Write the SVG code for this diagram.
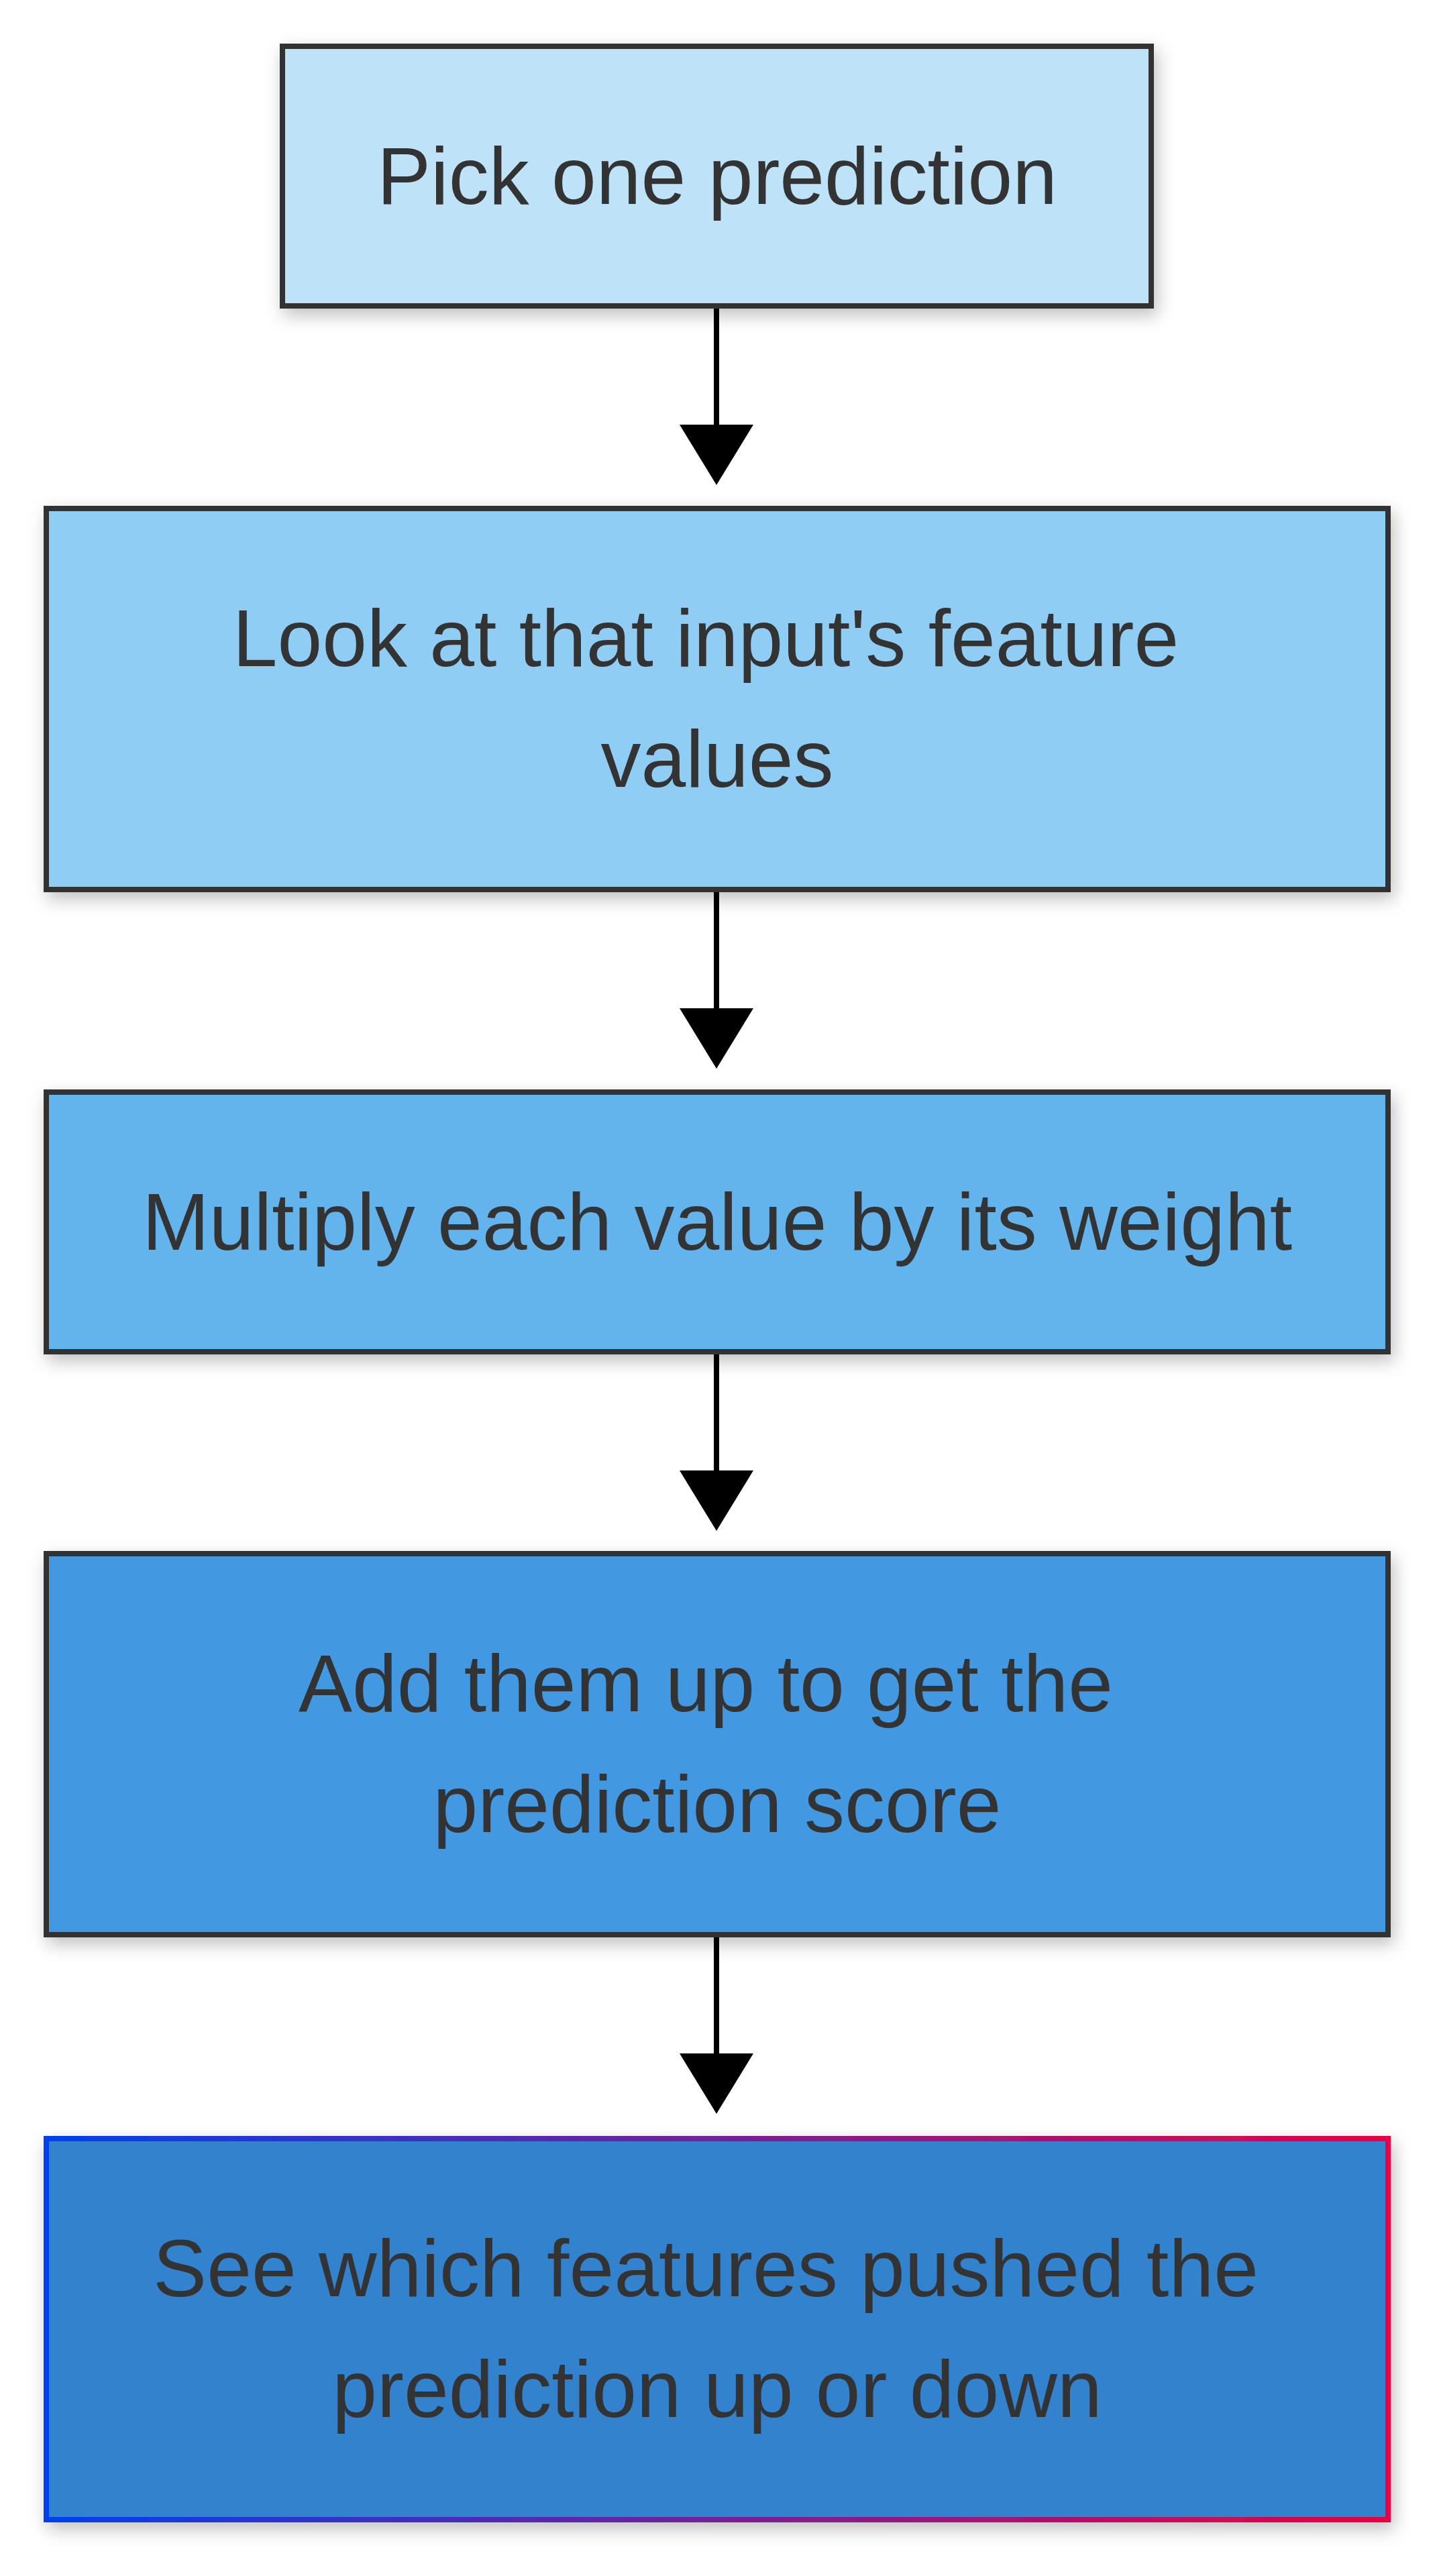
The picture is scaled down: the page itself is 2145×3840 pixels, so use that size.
<svg xmlns="http://www.w3.org/2000/svg" width="2145" height="3840" viewBox="0 0 2145 3840">
  <style>
    .box { stroke: #333333; stroke-width: 8; filter: url(#shadow); }
    .lbl { font-family: "Liberation Sans", Arial, sans-serif; font-size: 120px; fill: #333333; text-anchor: middle; }
    .edge { stroke: #000000; stroke-width: 8; fill: none; marker-end: url(#arrow); }
  </style>
  <defs>
    <filter id="shadow" x="-10%" y="-20%" width="125%" height="160%">
      <feDropShadow dx="5" dy="10" stdDeviation="13" flood-color="#000000" flood-opacity="0.25"/>
    </filter>
    <marker id="arrow" markerUnits="userSpaceOnUse" markerWidth="110" markerHeight="90" refX="55" refY="1" orient="0" viewBox="0 0 110 90">
      <path d="M0,0 L110,0 L55,90 Z" fill="#000000"/>
    </marker>
    <linearGradient id="grad5" x1="0" y1="0" x2="1" y2="0">
      <stop offset="0" stop-color="#0040ef"/>
      <stop offset="1" stop-color="#ea0043"/>
    </linearGradient>
  </defs>
  <rect width="2145" height="3840" fill="#ffffff"/>

  <g id="connectors">
    <path class="edge" d="M1068,456 L1068,634"/>
    <path class="edge" d="M1068,1326 L1068,1504"/>
    <path class="edge" d="M1068,2015 L1068,2193"/>
    <path class="edge" d="M1068,2884 L1068,3062"/>
  </g>

  <g id="node1">
    <rect class="box" x="421" y="69" width="1295" height="387" fill="#BEE3F8"/>
    <text class="lbl" x="1069" y="304">Pick one prediction</text>
  </g>
  <g id="node2">
    <rect class="box" x="69" y="758" width="2000" height="568" fill="#90CDF4"/>
    <text class="lbl" x="1052" y="993">Look at that input's feature</text>
    <text class="lbl" x="1069" y="1173">values</text>
  </g>
  <g id="node3">
    <rect class="box" x="69" y="1628" width="2000" height="387" fill="#63B3ED"/>
    <text class="lbl" x="1069" y="1863">Multiply each value by its weight</text>
  </g>
  <g id="node4">
    <rect class="box" x="69" y="2316" width="2000" height="568" fill="#4299E1"/>
    <text class="lbl" x="1052" y="2551">Add them up to get the</text>
    <text class="lbl" x="1069" y="2731">prediction score</text>
  </g>
  <g id="node5">
    <rect class="box" x="69" y="3188" width="2000" height="568" fill="#3182CE" style="stroke:url(#grad5)"/>
    <text class="lbl" x="1052" y="3423">See which features pushed the</text>
    <text class="lbl" x="1069" y="3603">prediction up or down</text>
  </g>
</svg>
